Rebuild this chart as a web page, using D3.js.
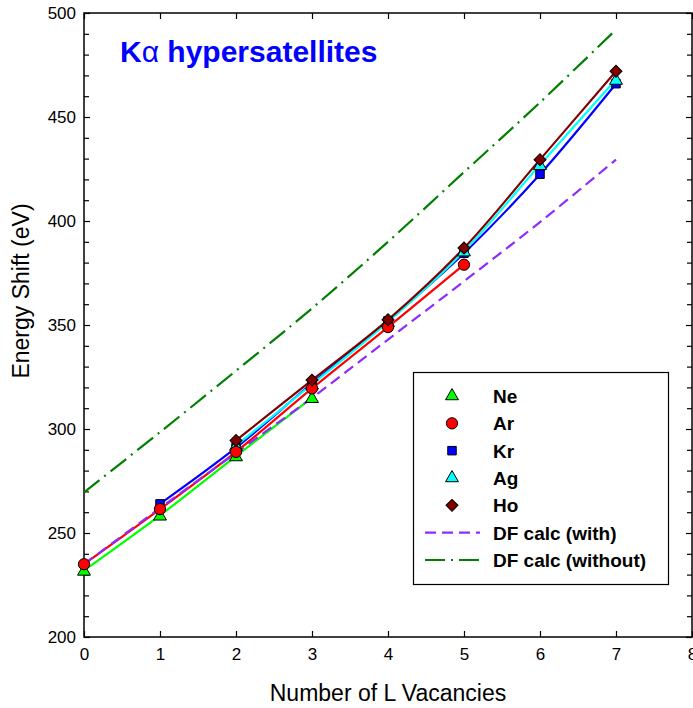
<!DOCTYPE html>
<html>
<head>
<meta charset="utf-8">
<script src="https://cdn.jsdelivr.net/npm/d3@7"></script>
<style>
  body { margin: 0; background: #fff; }
  svg text { font-family: "Liberation Sans", Arial, sans-serif; }
</style>
</head>
<body>
<div id="chart"></div>
<script>
// L vacancies (x) and measured shifts (eV)
var ne_x = [0, 1, 2, 3];
var ne_y = [232, 258.5, 287, 315];

var ar_x = [0, 1, 2, 3, 4, 5];
var ar_y = [235, 261.5, 289, 319.5, 349, 379];

var kr_x = [1, 2, 3, 4, 5, 6, 7];
var kr_y = [264, 291, 322, 352, 384.5, 422.5, 466];

var ag_x = [2, 3, 4, 5, 6, 7];
var ag_y = [292, 321.5, 351.5, 385.5, 427, 468];

var ho_x = [2, 3, 4, 5, 6, 7];
var ho_y = [294.5, 323.5, 352.5, 387, 429.5, 472];

var calc_x = [0, 1, 2, 3, 4, 5, 6, 7];
var calc_with = [235, 262, 288.5, 315, 343, 371, 399.5, 429.5];
var calc_without = [269.5, 298.5, 328, 358, 390, 423.5, 457, 492];

var x_ticks = [0, 1, 2, 3, 4, 5, 6, 7, 8];
var y_ticks = [200, 250, 300, 350, 400, 450, 500];

var W = 693, H = 708;
var svg = d3.select('#chart').append('svg')
  .attr('width', W)
  .attr('height', H);

var x = d3.scaleLinear().domain([0, 8]).range([84, 692]);
var y = d3.scaleLinear().domain([200, 500]).range([637, 13]);

var pts = (xs, ys) => xs.map((v, i) => ({ x: v, y: ys[i] }));

var series = [
  { id: 'Ne', data: pts(ne_x, ne_y), color: '#00ff00', shape: 'tri' },
  { id: 'Ar', data: pts(ar_x, ar_y), color: '#ff0000', shape: 'circle' },
  { id: 'Kr', data: pts(kr_x, kr_y), color: '#0000ff', shape: 'square' },
  { id: 'Ag', data: pts(ag_x, ag_y), color: '#00ffff', shape: 'tri' },
  { id: 'Ho', data: pts(ho_x, ho_y), color: '#800000', shape: 'diamond' },
];

var calcs = [
  { id: 'DF calc (with)', data: pts(calc_x, calc_with), color: '#8f2bff', dash: '11,6' },
  { id: 'DF calc (without)', data: pts(calc_x, calc_without), color: '#008000', dash: '20,6,2,6' },
];

var symbols = {
  tri: d3.symbol().type(d3.symbolTriangle).size(72),
  circle: d3.symbol().type(d3.symbolCircle).size(100),
  square: d3.symbol().type(d3.symbolSquare).size(72),
  diamond: d3.symbol().type(d3.symbolSquare).size(72),
};
var rot = (shape) => shape === 'diamond' ? ' rotate(45)' : '';

// axes, ticks pointing inwards
var minor = d3.range(200, 501, 10).filter((v) => v % 50 !== 0);

var axes = [
  [d3.axisBottom(x).tickValues(x_ticks).tickSizeInner(-6).tickSizeOuter(0).tickPadding(11), `translate(0,${y(200)})`],
  [d3.axisTop(x).tickValues(x_ticks).tickSizeInner(-6).tickSizeOuter(0).tickFormat(''), `translate(0,${y(500)})`],
  [d3.axisLeft(y).tickValues(y_ticks).tickSizeInner(-6).tickSizeOuter(0).tickPadding(8), `translate(${x(0)},0)`],
  [d3.axisRight(y).tickValues(y_ticks).tickSizeInner(-6).tickSizeOuter(0).tickFormat(''), `translate(${x(8)},0)`],
  [d3.axisLeft(y).tickValues(minor).tickSizeInner(-5).tickSizeOuter(0).tickFormat(''), `translate(${x(0)},0)`],
  [d3.axisRight(y).tickValues(minor).tickSizeInner(-5).tickSizeOuter(0).tickFormat(''), `translate(${x(8)},0)`],
];

axes.forEach((a) => {
  var g = svg.append('g').attr('transform', a[1]).call(a[0]);
  g.select('.domain').remove();
  g.selectAll('.tick line').attr('stroke', '#000').attr('stroke-width', 1.2);
  g.selectAll('.tick text')
    .attr('fill', '#000')
    .style('font-size', '17px');
});

svg.append('rect')
  .attr('x', x(0))
  .attr('y', y(500))
  .attr('width', x(8) - x(0))
  .attr('height', y(200) - y(500))
  .attr('fill', 'none')
  .attr('stroke', '#000')
  .attr('stroke-width', 1.5);

// curves
var line = d3.line()
  .x((d) => x(d.x))
  .y((d) => y(d.y))
  .curve(d3.curveCatmullRom.alpha(0.5));

var gph = svg.append('g').attr('class', 'lines');

series.forEach((s) => {
  gph.append('path')
    .attr('d', line(s.data))
    .attr('fill', 'none')
    .attr('stroke', s.color)
    .attr('stroke-width', 2.2);
});

calcs.forEach((c) => {
  gph.append('path')
    .attr('d', line(c.data))
    .attr('fill', 'none')
    .attr('stroke', c.color)
    .attr('stroke-width', 2.2)
    .attr('stroke-dasharray', c.dash);
});

// markers, drawn so the overlap looks like the original
var order = ['Kr', 'Ag', 'Ne', 'Ar', 'Ho'];
order.forEach((id) => {
  var s = series.find((t) => t.id === id);
  gph.selectAll(`path.mk-${id}`)
    .data(s.data).enter()
    .append('path')
    .attr('class', `mk-${id}`)
    .attr('d', symbols[s.shape])
    .attr('transform', (d) => `translate(${x(d.x)},${y(d.y) + (s.shape === 'tri' ? 1 : 0)})${rot(s.shape)}`)
    .attr('fill', s.color)
    .attr('stroke', '#000')
    .attr('stroke-width', 1);
});

// title
var title = svg.append('text')
  .attr('x', 120)
  .attr('y', 62)
  .attr('fill', '#0000ff')
  .style('font-size', '30px')
  .style('font-weight', 'bold');
title.append('tspan').text('K');
title.append('tspan').style('font-weight', 'normal').text('α');
title.append('tspan').text(' hypersatellites');

// axis titles
svg.append('text')
  .attr('x', 388)
  .attr('y', 701)
  .attr('text-anchor', 'middle')
  .style('font-size', '23px')
  .text('Number of L Vacancies');

svg.append('text')
  .attr('transform', 'translate(29,291) rotate(-90)')
  .attr('text-anchor', 'middle')
  .style('font-size', '23px')
  .text('Energy Shift (eV)');

// legend
var leg_items = series.map((s) => ({ id: s.id, s: s }))
  .concat(calcs.map((c) => ({ id: c.id, c: c })));

var ly = d3.scalePoint()
  .domain(leg_items.map((d) => d.id))
  .range([396, 560]);

var leg = svg.append('g').attr('class', 'legend');

leg.append('rect')
  .attr('x', 413.5)
  .attr('y', 372.5)
  .attr('width', 255)
  .attr('height', 212)
  .attr('fill', '#fff')
  .attr('stroke', '#000')
  .attr('stroke-width', 1.2);

leg_items.forEach((d) => {
  var cy = ly(d.id);
  if (d.s) {
    leg.append('path')
      .attr('d', symbols[d.s.shape])
      .attr('transform', `translate(452,${cy})${rot(d.s.shape)}`)
      .attr('fill', d.s.color)
      .attr('stroke', '#000')
      .attr('stroke-width', 1);
  } else {
    leg.append('line')
      .attr('x1', 425)
      .attr('x2', 480)
      .attr('y1', cy)
      .attr('y2', cy)
      .attr('stroke', d.c.color)
      .attr('stroke-width', 2.2)
      .attr('stroke-dasharray', d.c.dash);
  }
  leg.append('text')
    .attr('x', 493)
    .attr('y', cy)
    .attr('dy', '0.36em')
    .style('font-size', '19px')
    .style('font-weight', 'bold')
    .text(d.id);
});
</script>
</body>
</html>
